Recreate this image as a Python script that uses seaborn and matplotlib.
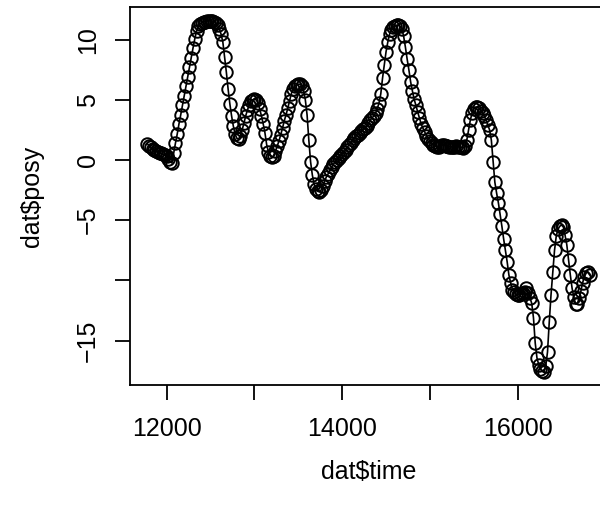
import matplotlib
matplotlib.use('Agg')
import matplotlib.pyplot as plt
import pandas as pd
import seaborn as sns

# time stamps
time = [
    11780, 11800, 11820, 11840, 11860, 11880, 11900, 11920, 11940, 11960,
    11980, 12000, 12020, 12040, 12060, 12080, 12100, 12120, 12140, 12160,
    12180, 12200, 12220, 12240, 12260, 12280, 12300, 12320, 12340, 12360,
    12380, 12400, 12420, 12440, 12460, 12480, 12500, 12520, 12540, 12560,
    12580, 12600, 12620, 12640, 12660, 12680, 12700, 12720, 12740, 12760,
    12780, 12800, 12820, 12840, 12860, 12880, 12900, 12920, 12940, 12960,
    12980, 13000, 13020, 13040, 13060, 13080, 13100, 13120, 13140, 13160,
    13180, 13200, 13220, 13240, 13260, 13280, 13300, 13320, 13340, 13360,
    13380, 13400, 13420, 13440, 13460, 13480, 13500, 13520, 13540, 13560,
    13580, 13600, 13620, 13640, 13660, 13680, 13700, 13720, 13740, 13760,
    13780, 13800, 13820, 13840, 13860, 13880, 13900, 13920, 13940, 13960,
    13980, 14000, 14020, 14040, 14060, 14080, 14100, 14120, 14140, 14160,
    14180, 14200, 14220, 14240, 14260, 14280, 14300, 14320, 14340, 14360,
    14380, 14400, 14420, 14440, 14460, 14480, 14500, 14520, 14540, 14560,
    14580, 14600, 14620, 14640, 14660, 14680, 14700, 14720, 14740, 14760,
    14780, 14800, 14820, 14840, 14860, 14880, 14900, 14920, 14940, 14960,
    14980, 15000, 15020, 15040, 15060, 15080, 15100, 15120, 15140, 15160,
    15180, 15200, 15220, 15240, 15260, 15280, 15300, 15320, 15340, 15360,
    15380, 15400, 15420, 15440, 15460, 15480, 15500, 15520, 15540, 15560,
    15580, 15600, 15620, 15640, 15660, 15680, 15700, 15720, 15740, 15760,
    15780, 15800, 15820, 15840, 15860, 15880, 15900, 15920, 15940, 15960,
    15980, 16000, 16020, 16040, 16060, 16080, 16100, 16120, 16140, 16160,
    16180, 16200, 16220, 16240, 16260, 16280, 16300, 16320, 16340, 16360,
    16380, 16400, 16420, 16440, 16460, 16480, 16500, 16520, 16540, 16560,
    16580, 16600, 16620, 16640, 16660, 16680, 16700, 16720, 16740, 16760,
    16780, 16800, 16820,
]

# y position at each time stamp
posy = [
    1.35, 1.2, 1.05, 0.9, 0.8, 0.72, 0.65, 0.6, 0.55, 0.5,
    0.45, 0.3, 0.1, -0.15, -0.25, 0.6, 1.4, 2.15, 3.0, 3.75,
    4.55, 5.3, 6.15, 6.9, 7.7, 8.5, 9.3, 10.05, 10.7, 11.1,
    11.3, 11.4, 11.45, 11.5, 11.55, 11.55, 11.55, 11.55, 11.5, 11.4,
    11.2, 10.9, 10.45, 9.8, 8.55, 7.3, 5.9, 4.65, 3.65, 2.8,
    2.15, 1.8, 1.75, 2.0, 2.5, 3.05, 3.65, 4.15, 4.55, 4.9,
    5.0, 5.05, 5.0, 4.75, 4.25, 3.65, 3.0, 2.25, 1.25, 0.65,
    0.35, 0.25, 0.35, 0.75, 1.15, 1.6, 2.1, 2.65, 3.25, 3.75,
    4.3, 4.9, 5.5, 5.9, 6.15, 6.25, 6.3, 6.3, 6.15, 5.75,
    5.0, 3.75, 1.65, -0.15, -1.25, -2.0, -2.4, -2.6, -2.65, -2.5,
    -2.15, -1.75, -1.4, -1.15, -0.85, -0.6, -0.35, -0.15, 0.0, 0.15,
    0.35, 0.5, 0.65, 0.85, 1.1, 1.25, 1.45, 1.65, 1.8, 2.0,
    2.1, 2.25, 2.4, 2.55, 2.65, 2.8, 3.05, 3.3, 3.5, 3.65,
    3.9, 4.25, 4.75, 5.5, 6.8, 7.9, 9.0, 9.8, 10.45, 10.8,
    11.05, 11.15, 11.2, 11.2, 11.1, 10.9, 10.3, 9.4, 8.4, 7.5,
    6.5, 5.75, 5.05, 4.55, 4.0, 3.5, 3.0, 2.65, 2.35, 2.0,
    1.75, 1.6, 1.4, 1.25, 1.15, 1.1, 1.1, 1.15, 1.25, 1.25,
    1.15, 1.15, 1.1, 1.1, 1.05, 1.1, 1.15, 1.1, 1.1, 1.05,
    1.0, 1.15, 1.65, 2.5, 3.3, 3.9, 4.25, 4.4, 4.4, 4.3,
    4.05, 3.9, 3.65, 3.3, 2.9, 2.5, 1.65, -0.15, -1.85, -2.75,
    -3.55, -4.5, -5.5, -6.55, -7.5, -8.45, -9.55, -10.2, -10.8, -10.95,
    -11.15, -11.2, -11.2, -11.15, -11.05, -10.95, -10.6, -11.05, -11.45, -11.9,
    -13.1, -15.2, -16.45, -17.0, -17.35, -17.5, -17.6, -17.1, -15.95, -13.45,
    -11.2, -9.3, -7.5, -6.3, -5.75, -5.5, -5.4, -5.55, -6.25, -7.05,
    -8.3, -9.55, -10.65, -11.4, -11.95, -11.95, -11.45, -10.9, -10.2, -9.7,
    -9.4, -9.3, -9.55,
]

x_ticks = [12000, 13000, 14000, 15000, 16000]
x_labels = ['12000', '', '14000', '', '16000']
y_ticks = [-15, -10, -5, 0, 5, 10]
y_labels = ['\u221215', '', '\u22125', '0', '5', '10']

dat = pd.DataFrame({'time': time, 'posy': posy})

sns.set_style('ticks', {'axes.edgecolor': 'black', 'xtick.color': 'black',
                        'ytick.color': 'black', 'text.color': 'black',
                        'axes.labelcolor': 'black'})
plt.rcParams['font.family'] = ['Liberation Sans', 'DejaVu Sans']

fig = plt.figure(figsize=(6, 5.12), dpi=100)
# plot box runs past the right edge, as in the reference
ax = fig.add_axes([130 / 600, 1 - 385 / 512, 477 / 600, 378 / 512])

sns.lineplot(data=dat, x='time', y='posy', ax=ax, estimator=None, sort=False,
             color='black', linewidth=1.2, marker='o', markersize=9,
             markerfacecolor='none', markeredgecolor='black',
             markeredgewidth=1.4)

ax.set_xlim(11582, 17018)
ax.set_ylim(-18.69, 12.71)

ax.set_xticks(x_ticks)
ax.set_xticklabels(x_labels)
ax.set_yticks(y_ticks)
ax.set_yticklabels(y_labels, rotation=90, va='center')

ax.tick_params(axis='both', direction='out', length=10.8, width=1.3,
               labelsize=18)
ax.tick_params(axis='x', pad=12)
ax.tick_params(axis='y', pad=11)
for spine in ax.spines.values():
    spine.set_linewidth(1.3)

ax.set_xlabel('dat$time', fontsize=18, labelpad=14)
ax.set_ylabel('dat$posy', fontsize=18, labelpad=23)

fig.savefig('out.png', dpi=100)
plt.close(fig)
